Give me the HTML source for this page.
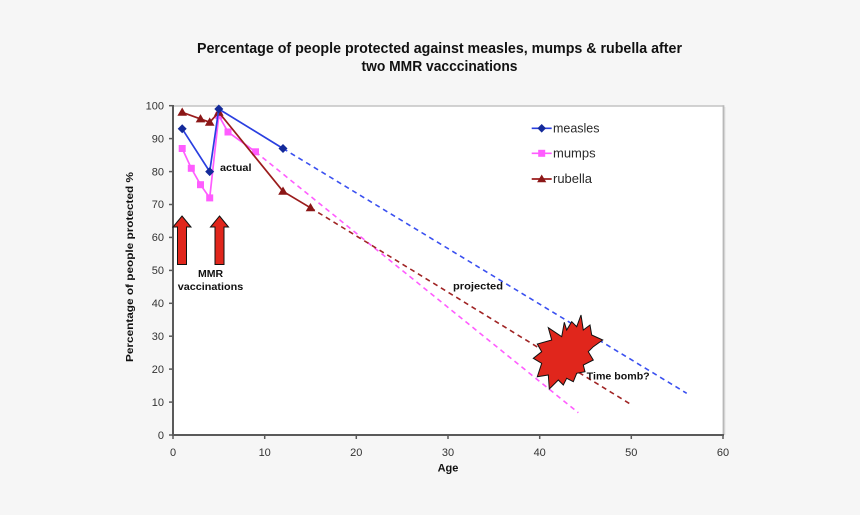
<!DOCTYPE html>
<html>
<head>
<meta charset="utf-8">
<style>
  html,body{margin:0;padding:0;background:#f6f6f6;}
  body{width:860px;height:515px;overflow:hidden;}
  svg{display:block;}
  text{font-family:"Liberation Sans",sans-serif;}
</style>
</head>
<body>
<svg width="860" height="515" viewBox="0 0 860 515" xmlns="http://www.w3.org/2000/svg">
  <rect x="0" y="0" width="860" height="515" fill="#f6f6f6"/>

  <!-- Title -->
  <text x="439.5" y="53" font-size="14.5" font-weight="bold" fill="#111" text-anchor="middle" textLength="485" lengthAdjust="spacingAndGlyphs">Percentage of people protected against measles, mumps &amp; rubella after</text>
  <text x="439.5" y="71" font-size="14.5" font-weight="bold" fill="#111" text-anchor="middle" textLength="156" lengthAdjust="spacingAndGlyphs">two MMR vacccinations</text>

  <!-- Plot area -->
  <rect x="173" y="106" width="550" height="329" fill="#ffffff"/>
  <line x1="173" y1="106" x2="723.5" y2="106" stroke="#c4c4c4" stroke-width="1.5"/>
  <line x1="723.5" y1="105.3" x2="723.5" y2="435" stroke="#b8b8b8" stroke-width="1.8"/>
  <line x1="725" y1="107" x2="725" y2="435" stroke="#e4e4e4" stroke-width="1"/>

  <!-- Axes -->
  <line x1="173" y1="105" x2="173" y2="436" stroke="#5a5a5a" stroke-width="2"/>
  <line x1="172" y1="435" x2="724" y2="435" stroke="#5a5a5a" stroke-width="2"/>

  <!-- Y ticks -->
  <g stroke="#5a5a5a" stroke-width="1.5">
    <line x1="169" y1="435" x2="173" y2="435"/>
    <line x1="169" y1="402.1" x2="173" y2="402.1"/>
    <line x1="169" y1="369.1" x2="173" y2="369.1"/>
    <line x1="169" y1="336.2" x2="173" y2="336.2"/>
    <line x1="169" y1="303.3" x2="173" y2="303.3"/>
    <line x1="169" y1="270.4" x2="173" y2="270.4"/>
    <line x1="169" y1="237.4" x2="173" y2="237.4"/>
    <line x1="169" y1="204.5" x2="173" y2="204.5"/>
    <line x1="169" y1="171.6" x2="173" y2="171.6"/>
    <line x1="169" y1="138.6" x2="173" y2="138.6"/>
    <line x1="169" y1="105.7" x2="173" y2="105.7"/>
  </g>
  <g font-size="11" fill="#333" text-anchor="end">
    <text x="164" y="439">0</text>
    <text x="164" y="406">10</text>
    <text x="164" y="373">20</text>
    <text x="164" y="340">30</text>
    <text x="164" y="307">40</text>
    <text x="164" y="274">50</text>
    <text x="164" y="241">60</text>
    <text x="164" y="208">70</text>
    <text x="164" y="175.5">80</text>
    <text x="164" y="142.5">90</text>
    <text x="164" y="109.5">100</text>
  </g>

  <!-- X ticks -->
  <g stroke="#5a5a5a" stroke-width="1.5">
    <line x1="173" y1="435" x2="173" y2="439"/>
    <line x1="264.7" y1="435" x2="264.7" y2="439"/>
    <line x1="356.3" y1="435" x2="356.3" y2="439"/>
    <line x1="448" y1="435" x2="448" y2="439"/>
    <line x1="539.7" y1="435" x2="539.7" y2="439"/>
    <line x1="631.3" y1="435" x2="631.3" y2="439"/>
    <line x1="723" y1="435" x2="723" y2="439"/>
  </g>
  <g font-size="11" fill="#333" text-anchor="middle">
    <text x="173" y="456">0</text>
    <text x="264.7" y="456">10</text>
    <text x="356.3" y="456">20</text>
    <text x="448" y="456">30</text>
    <text x="539.7" y="456">40</text>
    <text x="631.3" y="456">50</text>
    <text x="723" y="456">60</text>
  </g>

  <!-- Axis titles -->
  <text x="448" y="471.5" font-size="11" font-weight="bold" fill="#111" text-anchor="middle">Age</text>
  <text transform="translate(133,267) rotate(-90)" font-size="10.5" font-weight="bold" fill="#111" text-anchor="middle" textLength="190" lengthAdjust="spacingAndGlyphs">Percentage of people protected  %</text>

  <!-- Projected dashed lines -->
  <g stroke-width="1.6" fill="none" stroke-dasharray="5,4">
    <line x1="283" y1="148.5" x2="686.7" y2="393.3" stroke="#3a50f0"/>
    <line x1="255.5" y1="151.8" x2="578.3" y2="412.7" stroke="#ff5cff"/>
    <line x1="310.5" y1="207.8" x2="630.7" y2="404.3" stroke="#a02424"/>
  </g>

  <!-- Mumps actual -->
  <polyline points="182.2,148.5 191.3,168.3 200.5,184.7 209.7,197.9 218.8,115.6 228,132 255.5,151.8" fill="none" stroke="#ff5cff" stroke-width="1.7"/>
  <g fill="#ff5cff">
    <rect x="178.7" y="145" width="7" height="7"/>
    <rect x="187.8" y="164.8" width="7" height="7"/>
    <rect x="197" y="181.2" width="7" height="7"/>
    <rect x="206.2" y="194.4" width="7" height="7"/>
    <rect x="215.3" y="112.1" width="7" height="7"/>
    <rect x="224.5" y="128.5" width="7" height="7"/>
    <rect x="252" y="148.3" width="7" height="7"/>
  </g>

  <!-- Rubella actual -->
  <polyline points="182.2,112.3 200.5,118.9 209.7,122.2 218.8,112.3 283,191.3 310.5,207.8" fill="none" stroke="#9b1c1c" stroke-width="1.7"/>
  <g fill="#8b1717">
    <polygon points="182.2,107.5 187,115.8 177.4,115.8"/>
    <polygon points="200.5,114.1 205.3,122.4 195.7,122.4"/>
    <polygon points="209.7,117.4 214.5,125.7 204.9,125.7"/>
    <polygon points="218.8,107.5 223.6,115.8 214,115.8"/>
    <polygon points="283,186.5 287.8,194.8 278.2,194.8"/>
    <polygon points="310.5,203 315.3,211.3 305.7,211.3"/>
  </g>

  <!-- Measles actual -->
  <polyline points="182.2,128.8 209.7,171.6 218.8,109 283,148.5" fill="none" stroke="#2a3fe0" stroke-width="1.7"/>
  <g fill="#142a9a">
    <polygon points="182.2,124.3 186.7,128.8 182.2,133.3 177.7,128.8"/>
    <polygon points="209.7,167.1 214.2,171.6 209.7,176.1 205.2,171.6"/>
    <polygon points="218.8,104.5 223.3,109 218.8,113.5 214.3,109"/>
    <polygon points="283,144 287.5,148.5 283,153 278.5,148.5"/>
  </g>

  <!-- Arrows -->
  <g fill="#e0261c" stroke="#111" stroke-width="1" stroke-linejoin="miter">
    <polygon points="182,216 191,227 186.5,227 186.5,264.5 177.5,264.5 177.5,227 173,227"/>
    <polygon points="219.5,216 228.5,227 224,227 224,264.5 215,264.5 215,227 210.5,227"/>
  </g>

  <!-- Annotations -->
  <g font-size="10.5" font-weight="bold" fill="#111">
    <text x="220" y="171" textLength="31.5" lengthAdjust="spacingAndGlyphs">actual</text>
    <text x="210.5" y="277" text-anchor="middle">MMR</text>
    <text x="210.5" y="290" text-anchor="middle" textLength="65.5" lengthAdjust="spacingAndGlyphs">vaccinations</text>
    <text x="453" y="289.5" textLength="50" lengthAdjust="spacingAndGlyphs">projected</text>
  </g>

  <!-- Starburst -->
  <polygon points="581,315 576.7,326.7 571.7,321.7 566.7,330 564.3,322.3 561.7,336.7 548.3,327.7 551.7,340 537.3,344 541.7,351.7 533.3,358.3 541.7,363.3 537.3,376.7 548.3,375 549.3,389 558.3,380 563.3,385 566.7,378.3 573.3,381.7 576.7,373.3 585,371.7 583.3,365 593.3,360 588.3,351.7 593.3,346.7 602.7,340 591.7,335 590,325 583.3,330" fill="#e0261c" stroke="#111" stroke-width="1" stroke-linejoin="miter"/>
  <text x="586.7" y="379.5" font-size="10.5" font-weight="bold" fill="#111" textLength="63" lengthAdjust="spacingAndGlyphs">Time bomb?</text>

  <!-- Legend -->
  <line x1="531.7" y1="128.3" x2="551.7" y2="128.3" stroke="#2a3fe0" stroke-width="1.7"/>
  <polygon points="541.7,124 546,128.3 541.7,132.6 537.4,128.3" fill="#142a9a"/>
  <text x="553" y="132.5" font-size="13" fill="#2a2a2a" textLength="46.5" lengthAdjust="spacingAndGlyphs">measles</text>

  <line x1="531.7" y1="153.3" x2="551.7" y2="153.3" stroke="#ff5cff" stroke-width="1.7"/>
  <rect x="538.2" y="149.8" width="7" height="7" fill="#ff5cff"/>
  <text x="553" y="157.5" font-size="13" fill="#2a2a2a">mumps</text>

  <line x1="531.7" y1="179" x2="551.7" y2="179" stroke="#9b1c1c" stroke-width="1.7"/>
  <polygon points="541.7,174.5 546.3,182.3 537.1,182.3" fill="#8b1717"/>
  <text x="553" y="183" font-size="13" fill="#2a2a2a">rubella</text>
</svg>
</body>
</html>
